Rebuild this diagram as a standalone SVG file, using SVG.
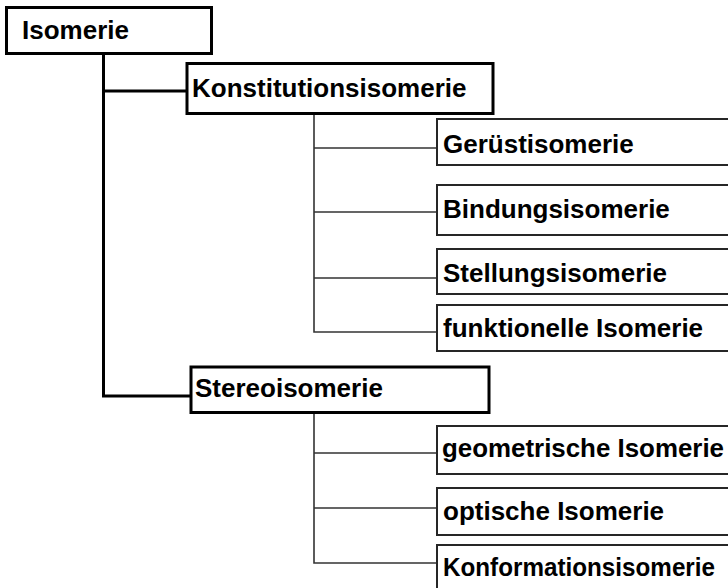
<svg xmlns="http://www.w3.org/2000/svg" width="728" height="588" viewBox="0 0 728 588">
  <style>
    text { font-family: "Liberation Sans", Arial, sans-serif; font-weight: bold; font-size: 26px; fill: #000; }
    .box1 { fill: #fff; stroke: #000; stroke-width: 3; }
    .box2 { fill: #fff; stroke: #262626; stroke-width: 2; }
    .main { fill: none; stroke: #000; stroke-width: 3; }
    .sub { fill: none; stroke: #333; stroke-width: 1.6; }
  </style>
  <rect width="728" height="588" fill="#fff"/>

  <g id="connectors">
    <!-- top level branches -->
    <path class="main" d="M103.5 54 V396 H191 M103.5 91 H187"/>
    <!-- Konstitutionsisomerie branches -->
    <path class="sub" d="M314 114 V332 H437 M314 148 H437 M314 212 H437 M314 278 H437"/>
    <!-- Stereoisomerie branches -->
    <path class="sub" d="M314 413 V563 H437 M314 453 H437 M314 508 H437"/>
  </g>

  <g id="isomerie">
    <rect class="box1" x="6.5" y="7.5" width="205" height="46"/>
    <text x="22" y="39">Isomerie</text>
  </g>

  <g id="konstitutionsisomerie">
    <rect class="box1" x="187" y="63.5" width="306" height="50"/>
    <text x="192" y="97">Konstitutionsisomerie</text>
  </g>
  <g id="geruestisomerie">
    <rect class="box2" x="437" y="119" width="300" height="46"/>
    <text x="443" y="153">Gerüstisomerie</text>
  </g>
  <g id="bindungsisomerie">
    <rect class="box2" x="437" y="185" width="300" height="50"/>
    <text x="443" y="218">Bindungsisomerie</text>
  </g>
  <g id="stellungsisomerie">
    <rect class="box2" x="437" y="249" width="300" height="45"/>
    <text x="443" y="282">Stellungsisomerie</text>
  </g>
  <g id="funktionelle-isomerie">
    <rect class="box2" x="437" y="305" width="300" height="46"/>
    <text x="443" y="337">funktionelle Isomerie</text>
  </g>

  <g id="stereoisomerie">
    <rect class="box1" x="191" y="367" width="298" height="45.5"/>
    <text x="195" y="397">Stereoisomerie</text>
  </g>
  <g id="geometrische-isomerie">
    <rect class="box2" x="437" y="426" width="300" height="48"/>
    <text x="442" y="457" textLength="282" lengthAdjust="spacingAndGlyphs">geometrische Isomerie</text>
  </g>
  <g id="optische-isomerie">
    <rect class="box2" x="437" y="488" width="300" height="47"/>
    <text x="443" y="520">optische Isomerie</text>
  </g>
  <g id="konformationsisomerie">
    <rect class="box2" x="437" y="545" width="300" height="60"/>
    <text x="443" y="576" textLength="272" lengthAdjust="spacingAndGlyphs">Konformationsisomerie</text>
  </g>
</svg>
